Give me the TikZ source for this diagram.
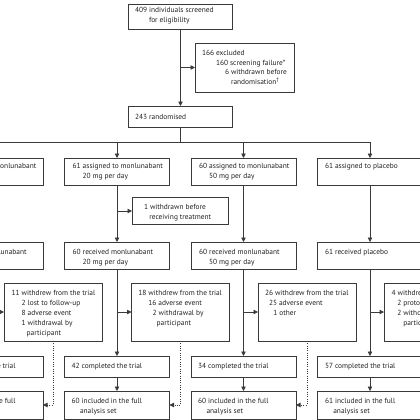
\documentclass[tikz,border=0pt]{standalone}
\usepackage{fontspec}
\setmainfont{PT Sans}
\usetikzlibrary{arrows.meta}
\definecolor{linec}{HTML}{3A3A3A}
\definecolor{textc}{HTML}{231F20}
\begin{document}
\begin{tikzpicture}[x=1pt,y=-1pt,
  box/.style={draw=linec, line width=0.8pt, inner sep=0pt, outer sep=0pt},
  txt/.style={anchor=north west, inner sep=0pt, outer sep=0pt, align=left,
    font=\fontsize{7.4}{10}\selectfont, text=textc},
  arr/.style={draw=linec, line width=0.8pt, -{Triangle[length=4.5pt,width=4.5pt]}},
  ln/.style={draw=linec, line width=0.8pt},
  dotarr/.style={arr, dash pattern=on 0.9pt off 1.4pt}]
\useasboundingbox (0,0) rectangle (420,420);
\clip (0,0) rectangle (420,420);
% ---- boxes
\node[box, minimum width=104pt, minimum height=25pt] (screen) at (180.5,16.5) {};
\node[box, minimum width=99pt, minimum height=49pt] (excl) at (244.5,67.5) {};
\node[box, minimum width=104pt, minimum height=21pt] (rand) at (180.5,116.5) {};
\foreach \n/\cx in {1/-9.5,2/117,3/243.5,4/370}{
  \node[box, minimum width=105pt, minimum height=27pt] (a\n) at (\cx,171.5) {};
  \node[box, minimum width=105pt, minimum height=27pt] (r\n) at (\cx,255.5) {};
  \node[box, minimum width=105pt, minimum height=21pt] (c\n) at (\cx,366.5) {};
  \node[box, minimum width=105pt, minimum height=28pt] (i\n) at (\cx,405) {};
}
\node[box, minimum width=96pt, minimum height=27.5pt] (wb) at (180,211) {};
\foreach \n/\cx in {1/53,2/180.5,3/307,4/433}{
  \node[box, minimum width=98pt, minimum height=58pt] (w\n) at (\cx,312) {};
}
% ---- texts
\node[txt] (tscreen) at (135,5.5) {\strut 409 individuals screened\\\hspace*{14pt}\strut for eligibility};
\node[txt, font=\fontsize{7.4}{9.6}\selectfont] (texcl) at (202,49) {\strut 166 excluded\\
  \hspace*{14pt}\strut 160 screening failure*\\
  \hspace*{23pt}\strut 6 withdrawn before\\
  \hspace*{29pt}\strut randomisation\textsuperscript{†}};
\node[txt] (trand) at (135,112.2) {\strut 243 randomised};
\node[txt] (ta1) at (-53.8,161.5) {\strut 61 assigned to monlunabant};
\node[txt] (ta2) at (72.7,161.5) {\strut 61 assigned to monlunabant\\\hspace*{10pt}\strut 20 mg per day};
\node[txt] (ta3) at (199.2,161.5) {\strut 60 assigned to monlunabant\\\hspace*{10pt}\strut 50 mg per day};
\node[txt] (ta4) at (325,161.5) {\strut 61 assigned to placebo};
\node[txt] (twb) at (144,202.2) {\strut 1 withdrawn before\\\hspace*{5.3pt}\strut receiving treatment};
\node[txt] (tr1) at (-53.8,247.2) {\strut 61 received monlunabant};
\node[txt] (tr2) at (72.7,247.2) {\strut 60 received monlunabant\\\hspace*{10pt}\strut 20 mg per day};
\node[txt] (tr3) at (199.2,247.2) {\strut 60 received monlunabant\\\hspace*{10pt}\strut 50 mg per day};
\node[txt] (tr4) at (325,247.2) {\strut 61 received placebo};
\node[txt] (tw1) at (11.7,288.8) {\strut 11 withdrew from the trial\\
  \hspace*{10pt}\strut 2 lost to follow-up\\
  \hspace*{10pt}\strut 8 adverse event\\
  \hspace*{10pt}\strut 1 withdrawal by\\
  \hspace*{15pt}\strut participant};
\node[txt] (tw2) at (138.3,288.8) {\strut 18 withdrew from the trial\\
  \hspace*{10pt}\strut 16 adverse event\\
  \hspace*{14.4pt}\strut 2 withdrawal by\\
  \hspace*{18.4pt}\strut participant};
\node[txt] (tw3) at (265,288.8) {\strut 26 withdrew from the trial\\
  \hspace*{4pt}\strut 25 adverse event\\
  \hspace*{8.3pt}\strut 1 other};
\node[txt] (tw4) at (391.7,288.8) {\strut 4 withdrew from the trial\\
  \hspace*{5.6pt}\strut 2 protocol deviation\\
  \hspace*{5.6pt}\strut 2 withdrawal by\\
  \hspace*{11.6pt}\strut participant};
\node[txt] (tc1) at (-54.8,361.5) {\strut 50 completed the trial};
\node[txt] (tc2) at (71.7,361.5) {\strut 42 completed the trial};
\node[txt] (tc3) at (198.2,361.5) {\strut 34 completed the trial};
\node[txt] (tc4) at (325,361.5) {\strut 57 completed the trial};
\node[txt] (ti1) at (-54.8,396.5) {\strut 61 included in the full};
\node[txt] (ti2) at (71.7,396.5) {\strut 60 included in the full\\\hspace*{8.3pt}\strut analysis set};
\node[txt] (ti3) at (198.2,396.5) {\strut 60 included in the full\\\hspace*{8.3pt}\strut analysis set};
\node[txt] (ti4) at (325,396.5) {\strut 61 included in the full\\\hspace*{8.3pt}\strut analysis set};
% ---- connectors
\draw[arr] (screen.south) -- (rand.north);
\draw[arr] (screen.south |- excl.west) -- (excl.west);
\coordinate (split) at (180.5,142);
\draw[ln] (rand.south) -- (split);
\draw[ln] (a1.north |- split) -- (a4.north |- split);
\foreach \n in {1,2,3,4}{
  \draw[arr] (a\n.north |- split) -- (a\n.north);
  \draw[arr] (a\n.south) -- (r\n.north);
  \draw[arr] (r\n.south) -- (c\n.north);
  \draw[arr] (r\n.south |- w\n.west) -- (w\n.west);
  \draw[arr] (c\n.south) -- (i\n.north);
  \draw[dotarr] (w\n.south) |- (i\n.east);
}
\draw[arr] (a2.south |- wb.west) -- (wb.west);
\end{tikzpicture}
\end{document}
